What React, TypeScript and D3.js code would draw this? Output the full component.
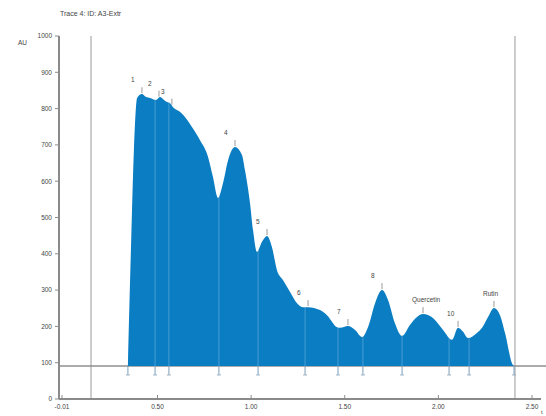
import React from "react";
import * as d3 from "d3";

const title = "Trace 4: ID: A3-Extr";
const yUnit = "AU";
const xUnit = "t";

const times = [0.342, 0.358, 0.374, 0.391, 0.416, 0.439, 0.46, 0.476, 0.492, 0.513, 0.535, 0.551, 0.567, 0.583, 0.62, 0.658, 0.684, 0.727, 0.77, 0.796, 0.823, 0.85, 0.877, 0.914, 0.951, 0.967, 0.994, 1.01, 1.031, 1.058, 1.085, 1.111, 1.138, 1.17, 1.208, 1.245, 1.277, 1.304, 1.368, 1.405, 1.459, 1.475, 1.517, 1.555, 1.592, 1.624, 1.662, 1.699, 1.731, 1.768, 1.806, 1.848, 1.886, 1.918, 1.971, 2.025, 2.073, 2.105, 2.132, 2.158, 2.206, 2.233, 2.265, 2.297, 2.329, 2.356, 2.398, 2.409];
const values = [91, 410, 686, 829, 840, 832, 829, 826, 824, 832, 824, 818, 815, 804, 791, 769, 749, 713, 667, 612, 554, 595, 658, 694, 672, 631, 540, 466, 405, 433, 449, 419, 355, 328, 295, 264, 253, 253, 245, 231, 198, 196, 201, 190, 171, 198, 264, 300, 273, 209, 174, 204, 226, 234, 223, 190, 163, 196, 185, 168, 182, 196, 226, 251, 231, 182, 94, 91];

const baselineValue = 91;

const peakNames = ["1", "2", "3", "4", "5", "6", "7", "8", "Quercetin", "10", "Rutin"];
const peakTimes = [0.417, 0.508, 0.577, 0.914, 1.085, 1.304, 1.517, 1.699, 1.918, 2.105, 2.297];

const boundaryTimes = [0.342, 0.487, 0.561, 0.828, 1.037, 1.288, 1.464, 1.597, 1.806, 2.057, 2.164, 2.404];

const markerTimes = [0.145, 2.409];

const yTicks = [0, 100, 200, 300, 400, 500, 600, 700, 800, 900, 1000];
const xTickValues = [-0.01, 0.5, 1.0, 1.5, 2.0, 2.5];
const xTickLabels = ["-0.01", "0.50", "1.00", "1.50", "2.00", "2.50"];

export default function App() {
  const W = 546;
  const H = 416;
  const x = d3.scaleLinear().domain([-0.026, 2.548]).range([59, 541]);
  const y = d3.scaleLinear().domain([0, 1000]).range([399, 36]);
  const signal = d3.scaleLinear().domain(times).range(values).clamp(true);

  const pts = times.map((t, i) => [t, values[i]] as [number, number]);
  const area = d3
    .area<[number, number]>()
    .x((d) => x(d[0]))
    .y0(y(baselineValue))
    .y1((d) => y(d[1]))
    .curve(d3.curveMonotoneX);

  const font = "'Liberation Sans', Arial, sans-serif";
  const axisColor = "#8a8a8a";
  const textColor = "#444";
  const fill = "#0b7dc3";

  return (
    <svg
      width={W}
      height={H}
      style={{ position: "absolute", left: 0, top: 0, background: "#fff" }}
      fontFamily={font}
    >
      <text x={60} y={16} fontSize={7} fill={textColor}>{title}</text>
      <text x={18} y={45} fontSize={6.5} fill={textColor}>{yUnit}</text>

      {markerTimes.map((t, i) => (
        <line key={i} x1={x(t)} x2={x(t)} y1={y(1000)} y2={y(0)} stroke="#9a9a9a" strokeWidth={1} />
      ))}

      <line x1={x(-0.026)} x2={W} y1={y(baselineValue)} y2={y(baselineValue)} stroke="#8f8f8f" strokeWidth={1.5} />

      <path d={area(pts) || ""} fill={fill} />

      {boundaryTimes.map((t, i) => (
        <g key={i}>
          <line
            x1={x(t)}
            x2={x(t)}
            y1={y(signal(t))}
            y2={y(baselineValue)}
            stroke="#ffffff"
            strokeOpacity={0.25}
            strokeWidth={1}
          />
          <line x1={x(t)} x2={x(t)} y1={y(baselineValue)} y2={y(baselineValue) + 9} stroke="#7a9dba" strokeWidth={1} />
          <line x1={x(t) - 2} x2={x(t) + 2} y1={y(baselineValue) + 9} y2={y(baselineValue) + 9} stroke="#9ab0c3" strokeWidth={1} />
        </g>
      ))}

      {peakNames.map((name, i) => {
        const px = x(peakTimes[i]);
        const py = y(signal(peakTimes[i]));
        return (
          <g key={name}>
            <line x1={px} x2={px} y1={py - 1} y2={py - 7} stroke="#9a9a9a" strokeWidth={1} />
            <text x={px - 11} y={py - 12} fontSize={6.5} fill={textColor}>{name}</text>
          </g>
        );
      })}

      <line x1={59} x2={59} y1={y(1000)} y2={y(0)} stroke={axisColor} strokeWidth={2} />
      {yTicks.map((v) => (
        <g key={v}>
          <line x1={55} x2={59} y1={y(v)} y2={y(v)} stroke={axisColor} strokeWidth={1} />
          <text x={52} y={y(v) + 2.3} fontSize={6.5} textAnchor="end" fill={textColor}>{v}</text>
        </g>
      ))}

      <line x1={x(-0.026)} x2={x(2.548)} y1={y(0)} y2={y(0)} stroke={axisColor} strokeWidth={2} />
      {xTickValues.map((v, i) => (
        <g key={v}>
          <line x1={x(v)} x2={x(v)} y1={y(0)} y2={y(0) - 4} stroke={axisColor} strokeWidth={1} />
          <text x={x(v)} y={y(0) + 10} fontSize={6.5} textAnchor="middle" fill={textColor}>{xTickLabels[i]}</text>
        </g>
      ))}
      <text x={541} y={414} fontSize={6} fill={textColor}>{xUnit}</text>
    </svg>
  );
}
